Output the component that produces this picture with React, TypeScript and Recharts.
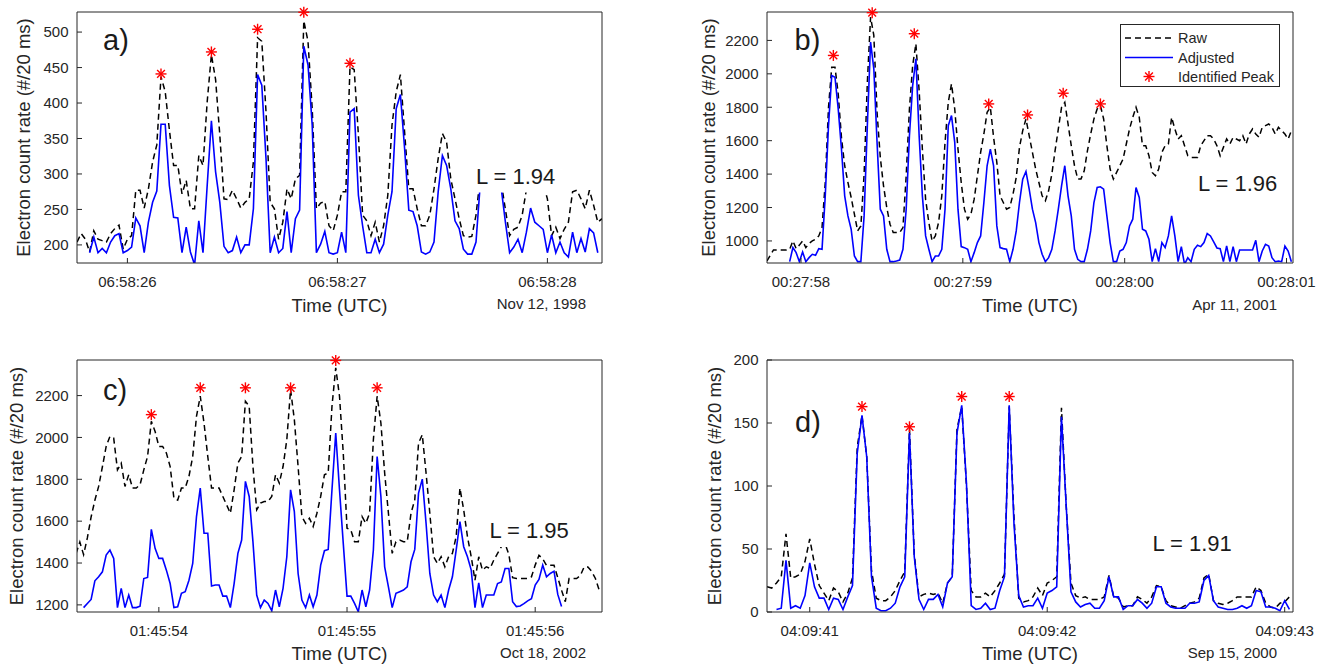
import React from "react";
import { ComposedChart, Line, Scatter, XAxis, YAxis, Legend } from "recharts";

const FONT = '"Liberation Sans", Arial, Helvetica, sans-serif';
const AXIS = "#262626";
const SAMPLE = 0.02; // one count bin = 20 ms

// ---- a) Nov 12, 1998 ----
const aStart = 25.76;
const aRaw = [
  204, 216, 208, 190, 220, 208, 206, 204, 216, 223,
  228, 194, 208, 213, 277, 277, 252, 279, 317, 341,
  437, 416, 362, 312, 312, 272, 291, 251, 251, 326,
  312, 402, 468, 433, 355, 265, 264, 277, 265, 252,
  260, 265, 317, 492, 487, 388, 260, 251, 208, 232,
  279, 265, 293, 298, 516, 487, 392, 251, 259, 261,
  227, 220, 242, 275, 275, 451, 447, 355, 242, 234,
  213, 232, 204, 227, 270, 369, 416, 440, 359, 279,
  279, 251, 227, 227, 242, 279, 322, 357, 345, 293,
  265, 237, 213, 211, 212, 242, 295, 310, 312, 305,
  295, 288, 250, 213, 222, 225, 242, 278, 290, 292,
  290, 286, 265, 213, 225, 209, 222, 232, 275, 277,
  265, 251, 277, 256, 232, 237,
];
const aAdj = [
  null, null, null, 189, 211, 189, 195, 189, 204, 213,
  216, 189, 192, 197, 238, 227, 189, 232, 260, 276,
  370, 370, 284, 239, 238, 189, 225, 190, 172, 234,
  189, 284, 375, 303, 260, 198, 189, 192, 211, 189,
  200, 200, 251, 440, 425, 322, 189, 211, 189, 195,
  247, 189, 237, 249, 480, 454, 369, 189, 201, 219,
  189, 187, 189, 218, 189, 387, 392, 270, 227, 189,
  189, 208, 189, 201, 242, 275, 392, 412, 336, 249,
  247, 227, 190, 187, 190, 204, 275, 326, 312, 279,
  234, 223, 194, 187, 187, 204, 285, 300, 305, 295,
  285, 280, 232, 189, 197, 208, 189, 218, 252, 232,
  227, 222, 189, 214, 189, 204, 189, 183, 218, 189,
  209, 190, 223, 217, 189, null,
];
const aPeakT = [26.16, 26.4, 26.62, 26.84, 27.06];
const aPeakV = [441, 472, 504, 528, 456];
const aXTicks = [26, 27, 28];
const aXLabels = ["06:58:26", "06:58:27", "06:58:28"];
const aYTicks = [200, 250, 300, 350, 400, 450, 500];

// ---- b) Apr 11, 2001 ----
const bStart = 57.79;
const bRaw = [
  880, 914, 946, 946, 946, 946, 946, 950, 1000, 954,
  975, 1000, 960, 985, 1000, 1010, 1030, 1080, 1350, 1800,
  2040, 2040, 1880, 1620, 1450, 1350, 1260, 1160, 1060, 1090,
  1400, 1950, 2340, 2230, 1770, 1500, 1330, 1200, 1100, 1050,
  1050, 1050, 1080, 1390, 1790, 2050, 2180, 1900, 1550, 1250,
  1110, 1000, 1030, 1110, 1270, 1590, 1830, 1940, 1790, 1550,
  1350, 1190, 1130, 1160, 1250, 1390, 1530, 1640, 1770, 1800,
  1620, 1470, 1270, 1230, 1190, 1200, 1280, 1380, 1560, 1660,
  1730, 1630, 1530, 1430, 1350, 1270, 1240, 1300, 1400, 1540,
  1670, 1800, 1830, 1700, 1570, 1450, 1370, 1370, 1420, 1540,
  1640, 1730, 1790, 1810, 1730, 1570, 1430, 1370, 1410, 1450,
  1490, 1580, 1670, 1740, 1800, 1740, 1570, 1570, 1510, 1410,
  1390, 1430, 1530, 1570, 1580, 1740, 1670, 1610, 1630, 1570,
  1510, 1500, 1500, 1500, 1570, 1600, 1630, 1630, 1610, 1570,
  1510, 1560, 1610, 1580, 1620, 1610, 1600, 1630, 1580, 1640,
  1670, 1640, 1620, 1680, 1690, 1700, 1680, 1640, 1680, 1660,
  1640, 1610, 1660,
];
const bAdj = [
  null, null, null, null, null, null, null, 876, 960, 930,
  876, 934, 876, 900, 920, 914, 954, 950, 1270, 1690,
  1990, 1980, 1790, 1550, 1270, 1150, 1070, 910, 876, 876,
  1150, 1690, 2190, 2030, 1590, 1190, 1150, 950, 876, 876,
  880, 886, 950, 1190, 1630, 1930, 2090, 1630, 1270, 1030,
  950, 876, 910, 910, 950, 1190, 1690, 1750, 1590, 1190,
  966, 960, 950, 876, 930, 990, 1030, 1230, 1450, 1550,
  1450, 1090, 960, 954, 950, 876, 950, 1060, 1230, 1370,
  1416, 1310, 1190, 1110, 990, 920, 876, 900, 950, 1060,
  1190, 1330, 1450, 1270, 1150, 950, 890, 876, 876, 950,
  1060, 1230, 1320, 1324, 1310, 1150, 990, 876, 876, 940,
  950, 990, 1090, 1130, 1320, 1260, 1070, 1060, 1010, 876,
  954, 876, 990, 960, 1030, 1150, 1030, 876, 966, 860,
  900, 876, 950, 974, 966, 990, 1044, 1030, 994, 958,
  954, 876, 970, 876, 966, 876, 946, 946, 946, 946,
  946, 1004, 876, 940, 980, 970, 900, 876, 880, 876,
  970, 940, 876,
];
const bPeakT = [58.2, 58.44, 58.7, 59.16, 59.4, 59.62, 59.85];
const bPeakV = [2110, 2366, 2240, 1820, 1754, 1884, 1820];
const bXTicks = [58, 59, 60, 61];
const bXLabels = ["00:27:58", "00:27:59", "00:28:00", "00:28:01"];
const bYTicks = [1000, 1200, 1400, 1600, 1800, 2000, 2200];

// ---- c) Oct 18, 2002 ----
const cStart = 53.56;
const cRaw = [
  1446, 1500, 1440, 1520, 1620, 1700, 1766, 1860, 1957, 2005,
  1997, 1845, 1877, 1766, 1822, 1758, 1758, 1774, 1845, 1909,
  2077, 2029, 1957, 1957, 1925, 1861, 1710, 1700, 1758, 1758,
  1814, 1909, 2101, 2197, 2069, 1909, 1758, 1758, 1758, 1718,
  1678, 1638, 1750, 1877, 1909, 2173, 2149, 1861, 1654, 1686,
  1694, 1694, 1718, 1822, 1782, 1861, 1989, 2229, 2085, 1861,
  1622, 1590, 1614, 1574, 1638, 1718, 1822, 1830, 2149, 2333,
  2197, 1925, 1566, 1558, 1502, 1502, 1622, 1590, 1638, 1989,
  2197, 2069, 1830, 1638, 1446, 1502, 1510, 1502, 1502, 1638,
  1702, 1973, 2013, 1830, 1638, 1430, 1398, 1430, 1382, 1430,
  1446, 1526, 1758, 1654, 1526, 1430, 1318, 1430, 1366, 1382,
  1374, 1414, 1446, 1478, 1493, 1440, 1330, 1326, 1326, 1326,
  1326, 1334, 1390, 1437, 1420, 1389, 1389, 1389, 1330, 1270,
  1215, 1326, 1326, 1326, 1340, 1381, 1381, 1360, 1326, 1271,
];
const cAdj = [
  null, null, 1187, 1207, 1226, 1315, 1334, 1358, 1438, 1462,
  1422, 1187, 1279, 1187, 1247, 1187, 1187, 1194, 1326, 1331,
  1561, 1470, 1422, 1422, 1366, 1302, 1187, 1191, 1255, 1263,
  1318, 1398, 1622, 1758, 1542, 1542, 1290, 1295, 1295, 1242,
  1242, 1187, 1302, 1446, 1510, 1790, 1718, 1502, 1247, 1187,
  1223, 1207, 1172, 1271, 1191, 1279, 1430, 1750, 1646, 1350,
  1223, 1187, 1247, 1191, 1247, 1390, 1459, 1465, 1750, 2021,
  1750, 1494, 1242, 1242, 1207, 1167, 1271, 1191, 1271, 1462,
  1909, 1718, 1382, 1286, 1187, 1255, 1263, 1271, 1286, 1406,
  1465, 1734, 1801, 1590, 1350, 1247, 1215, 1247, 1187, 1271,
  1334, 1462, 1598, 1478, 1430, 1366, 1187, 1305, 1187, 1247,
  1247, 1247, 1302, 1310, 1374, 1374, 1215, 1192, 1195, 1206,
  1219, 1229, 1295, 1322, 1390, 1334, 1350, 1361, 1250, 1192,
  null, null, null, null, null, null, null, null, null, null,
];
const cPeakT = [53.96, 54.22, 54.46, 54.7, 54.94, 55.16];
const cPeakV = [2109, 2237, 2237, 2237, 2368, 2237];
const cXTicks = [54, 55, 56];
const cXLabels = ["01:45:54", "01:45:55", "01:45:56"];
const cYTicks = [1200, 1400, 1600, 1800, 2000, 2200];

// ---- d) Sep 15, 2000 ----
const dStart = 40.82;
const dRaw = [
  20, 19, 23, 28, 62, 27, 28, 30, 40, 58,
  38, 21, 15, 9, 19, 16, 8, 15, 27, 131,
  156, 123, 33, 11, 9, 9, 12, 17, 25, 32,
  145, 46, 12, 14, 15, 14, 15, 7, 23, 28,
  145, 163, 100, 17, 12, 12, 15, 12, 17, 23,
  30, 163, 76, 11, 8, 9, 12, 19, 13, 23,
  25, 28, 162, 84, 23, 13, 11, 12, 10, 10,
  10, 12, 29, 12, 11, 4, 5, 5, 12, 10,
  7, 12, 21, 20, 9, 5, 4, 3, 5, 7,
  8, 11, 27, 30, 9, 7, 6, 7, 9, 12,
  12, 12, 12, 20, 17, 7, 4, 3, 7, 8,
  12,
];
const dAdj = [
  null, null, 2, 3, 41, 3, 5, 3, 13, 39,
  20, 11, 11, 2, 11, 10, 2, 12, 21, 126,
  156, 123, 28, 3, 1, 1, 3, 7, 20, 28,
  142, 44, 10, 2, 10, 10, 14, 4, 23, 28,
  142, 164, 102, 5, 2, 3, 7, 2, 3, 17,
  28, 164, 70, 13, 4, 5, 5, 11, 3, 15,
  17, 20, 155, 84, 16, 8, 4, 6, 7, 3,
  3, 9, 28, 12, 12, 2, 5, 5, 10, 7,
  3, 7, 20, 20, 7, 4, 3, 3, 3, 7,
  7, 8, 25, 29, 9, 4, 3, 2, 2, 3,
  5, 3, 5, 17, 16, 4, 4, 3, 1, 9,
  2,
];
const dPeakT = [41.22, 41.42, 41.64, 41.84];
const dPeakV = [163, 147, 171, 171];
const dXTicks = [41, 42, 43];
const dXLabels = ["04:09:41", "04:09:42", "04:09:43"];
const dYTicks = [0, 50, 100, 150, 200];

const legendItems = ["Raw", "Adjusted", "Identified Peak"];

type Pt = { t: number; v: number | null };

function toSeries(start: number, vals: (number | null)[]): Pt[] {
  return vals.map((v, i) => ({ t: Math.round((start + i * SAMPLE) * 1000) / 1000, v }));
}

function Asterisk({ cx, cy }: { cx?: number; cy?: number }) {
  if (cx == null || cy == null) return null;
  const r = 5.5;
  const d = r * 0.7071;
  return (
    <g stroke="#ff0000" strokeWidth={1.4}>
      <line x1={cx - r} y1={cy} x2={cx + r} y2={cy} />
      <line x1={cx} y1={cy - r} x2={cx} y2={cy + r} />
      <line x1={cx - d} y1={cy - d} x2={cx + d} y2={cy + d} />
      <line x1={cx - d} y1={cy + d} x2={cx + d} y2={cy - d} />
    </g>
  );
}

function PeakLegend() {
  const rows = [14, 33.5, 52.5];
  return (
    <svg width={160} height={63} style={{ display: "block" }}>
      <rect x={0.5} y={0.5} width={159} height={62} fill="#fff" stroke={AXIS} strokeWidth={1} />
      <line x1={5} x2={53} y1={rows[0]} y2={rows[0]} stroke="#000" strokeWidth={1.5} strokeDasharray="6 4" />
      <line x1={5} x2={53} y1={rows[1]} y2={rows[1]} stroke="#0000ff" strokeWidth={1.5} />
      <Asterisk cx={29} cy={rows[2]} />
      {legendItems.map((s, i) => (
        <text key={s} x={58} y={rows[i] + 5} fontSize={14.5} fill={AXIS} fontFamily={FONT}>
          {s}
        </text>
      ))}
    </svg>
  );
}

type PanelProps = {
  left: number;
  top: number;
  width: number;
  height: number;
  margin: { top: number; right: number; bottom: number; left: number };
  start: number;
  raw: (number | null)[];
  adj: (number | null)[];
  peakT: number[];
  peakV: number[];
  xDomain: [number, number];
  yDomain: [number, number];
  xTicks: number[];
  xLabels: string[];
  yTicks: number[];
  legend?: boolean;
};

function Panel(p: PanelProps) {
  const rawData = toSeries(p.start, p.raw);
  const adjData = toSeries(p.start, p.adj);
  const peaks = p.peakT.map((t, i) => ({ t, v: p.peakV[i] }));
  const tickStyle = { fontSize: 15, fill: AXIS, fontFamily: FONT };
  return (
    <div style={{ position: "absolute", left: p.left, top: p.top }}>
      <ComposedChart width={p.width} height={p.height} margin={p.margin}>
        <XAxis
          xAxisId="bottom"
          type="number"
          dataKey="t"
          domain={p.xDomain}
          allowDataOverflow
          ticks={p.xTicks}
          interval={0}
          tickFormatter={(v) => p.xLabels[p.xTicks.indexOf(v)] ?? ""}
          tickSize={-5}
          tickMargin={18.5}
          height={1}
          stroke={AXIS}
          tick={tickStyle}
        />
        <XAxis
          xAxisId="top"
          orientation="top"
          type="number"
          dataKey="t"
          domain={p.xDomain}
          ticks={p.xTicks}
          interval={0}
          tick={false}
          tickSize={-5}
          height={1}
          stroke={AXIS}
        />
        <YAxis
          yAxisId="left"
          type="number"
          dataKey="v"
          domain={p.yDomain}
          allowDataOverflow
          ticks={p.yTicks}
          interval={0}
          tickSize={-5}
          tickMargin={13.5}
          width={1}
          stroke={AXIS}
          tick={tickStyle}
        />
        <YAxis
          yAxisId="right"
          orientation="right"
          type="number"
          dataKey="v"
          domain={p.yDomain}
          ticks={p.yTicks}
          interval={0}
          tick={false}
          tickSize={-5}
          width={1}
          stroke={AXIS}
        />
        <Line
          xAxisId="bottom"
          yAxisId="left"
          data={rawData}
          dataKey="v"
          name="Raw"
          type="linear"
          stroke="#000000"
          strokeWidth={1.5}
          strokeDasharray="6 4"
          dot={false}
          isAnimationActive={false}
        />
        <Line
          xAxisId="bottom"
          yAxisId="left"
          data={adjData}
          dataKey="v"
          name="Adjusted"
          type="linear"
          stroke="#0000ff"
          strokeWidth={1.6}
          dot={false}
          isAnimationActive={false}
        />
        <Scatter
          xAxisId="top"
          yAxisId="right"
          data={peaks}
          dataKey="v"
          name="Identified Peak"
          shape={(s: any) => <Asterisk cx={s.cx} cy={s.cy} />}
          isAnimationActive={false}
        />
        {p.legend && (
          <Legend
            layout="vertical"
            align="center"
            verticalAlign="middle"
            content={() => <PeakLegend />}
            wrapperStyle={{ left: 430, top: 24, width: 160, height: 63 }}
          />
        )}
      </ComposedChart>
    </div>
  );
}

const yLabels = [
  { x: 29.5, y: 137.5 },
  { x: 714.5, y: 137.5 },
  { x: 23, y: 486 },
  { x: 721, y: 486 },
];
const timeLabels = [
  { x: 339.5, y: 311.7 },
  { x: 1030, y: 311.7 },
  { x: 339.5, y: 659.7 },
  { x: 1030, y: 659.7 },
];
const dateLabels = [
  { x: 586, y: 309, s: "Nov 12, 1998" },
  { x: 1277, y: 309.5, s: "Apr 11, 2001" },
  { x: 586, y: 658, s: "Oct 18, 2002" },
  { x: 1277, y: 658, s: "Sep 15, 2000" },
];
const letters = [
  { x: 103, y: 49.5, s: "a)" },
  { x: 794.5, y: 50, s: "b)" },
  { x: 103, y: 400, s: "c)" },
  { x: 795, y: 432, s: "d)" },
];
const lLabels = [
  { x: 476, y: 183.5, s: "L = 1.94" },
  { x: 1198, y: 191, s: "L = 1.96" },
  { x: 489.5, y: 538, s: "L = 1.95" },
  { x: 1152.5, y: 551, s: "L = 1.91" },
];

export default function App() {
  return (
    <div
      style={{
        position: "absolute",
        left: 0,
        top: 0,
        width: 1327,
        height: 665,
        background: "#fff",
        overflow: "hidden",
      }}
    >
      <Panel
        left={0}
        top={0}
        width={640}
        height={330}
        margin={{ top: 11, right: 37, bottom: 66, left: 76 }}
        start={aStart}
        raw={aRaw}
        adj={aAdj}
        peakT={aPeakT}
        peakV={aPeakV}
        xDomain={[25.76, 28.26]}
        yDomain={[174.5, 528.3]}
        xTicks={aXTicks}
        xLabels={aXLabels}
        yTicks={aYTicks}
      />
      <Panel
        left={690}
        top={0}
        width={637}
        height={330}
        margin={{ top: 11, right: 33, bottom: 66, left: 76 }}
        start={bStart}
        raw={bRaw}
        adj={bAdj}
        peakT={bPeakT}
        peakV={bPeakV}
        xDomain={[57.79, 61.04]}
        yDomain={[868, 2370]}
        xTicks={bXTicks}
        xLabels={bXLabels}
        yTicks={bYTicks}
        legend
      />
      <Panel
        left={0}
        top={348}
        width={640}
        height={317}
        margin={{ top: 11, right: 37, bottom: 52, left: 76 }}
        start={cStart}
        raw={cRaw}
        adj={cAdj}
        peakT={cPeakT}
        peakV={cPeakV}
        xDomain={[53.565, 56.355]}
        yDomain={[1166, 2370]}
        xTicks={cXTicks}
        xLabels={cXLabels}
        yTicks={cYTicks}
      />
      <Panel
        left={690}
        top={348}
        width={637}
        height={317}
        margin={{ top: 11, right: 33, bottom: 52, left: 76 }}
        start={dStart}
        raw={dRaw}
        adj={dAdj}
        peakT={dPeakT}
        peakV={dPeakV}
        xDomain={[40.82, 43.035]}
        yDomain={[0, 200]}
        xTicks={dXTicks}
        xLabels={dXLabels}
        yTicks={dYTicks}
      />
      <svg
        width={1327}
        height={665}
        style={{ position: "absolute", left: 0, top: 0, pointerEvents: "none" }}
        fontFamily={FONT}
        fill={AXIS}
      >
        {yLabels.map((l, i) => (
          <text
            key={"y" + i}
            transform={`translate(${l.x},${l.y}) rotate(-90)`}
            textAnchor="middle"
            fontSize={18.5}
          >
            Electron count rate (#/20 ms)
          </text>
        ))}
        {timeLabels.map((l, i) => (
          <text key={"t" + i} x={l.x} y={l.y} textAnchor="middle" fontSize={18.5}>
            Time (UTC)
          </text>
        ))}
        {dateLabels.map((l) => (
          <text key={l.s} x={l.x} y={l.y} textAnchor="end" fontSize={15}>
            {l.s}
          </text>
        ))}
        {letters.map((l) => (
          <text key={l.s} x={l.x} y={l.y} fontSize={29} fill="#1a1a1a">
            {l.s}
          </text>
        ))}
        {lLabels.map((l) => (
          <g key={l.s}>
            <rect x={l.x - 3} y={l.y - 20} width={87} height={29} fill="#fff" />
            <text x={l.x} y={l.y} fontSize={22} fill="#1a1a1a">
              {l.s}
            </text>
          </g>
        ))}
      </svg>
    </div>
  );
}
